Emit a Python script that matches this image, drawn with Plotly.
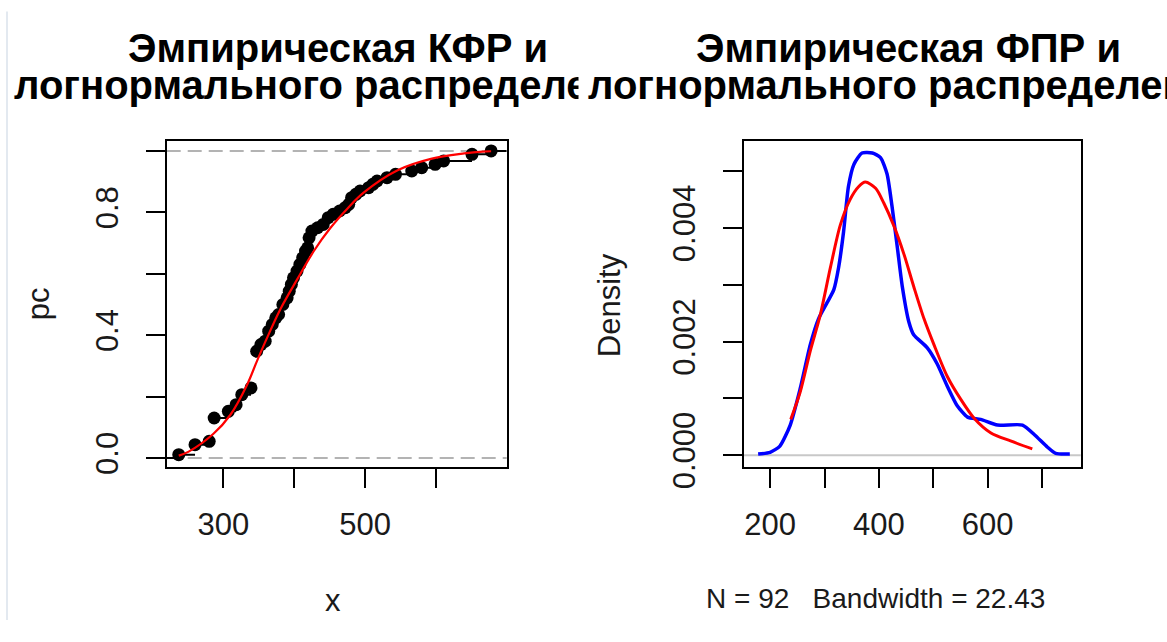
import plotly.graph_objects as go

# ---------------- data ----------------
N_TOTAL = 92
ecdf_x = [237, 260, 280, 287, 307, 318, 326, 339, 347, 353,
          359, 364, 369, 374, 378, 384, 390, 393, 396, 399,
          404, 408, 412, 416, 419, 421, 425, 433, 441, 448,
          455, 464, 472, 477, 481, 487, 493, 505, 511, 517,
          531, 543, 566, 580, 599, 611, 651, 678]
ecdf_n = [1, 4, 5, 12, 14, 16, 19, 21, 32, 34,
          35, 38, 40, 42, 43, 46, 48, 50, 52, 54,
          56, 58, 60, 62, 63, 66, 68, 69, 70, 72,
          73, 74, 75, 76, 78, 79, 80, 81, 82, 83,
          84, 85, 86, 87, 88, 89, 91, 92]

cdf_x = [237, 251, 286, 310, 333, 348, 362, 381, 404, 428, 451, 475, 498, 546, 593, 640, 666, 678]
cdf_y = [0.008, 0.021, 0.079, 0.141, 0.236, 0.319, 0.393, 0.487, 0.581, 0.675, 0.749, 0.812,
         0.864, 0.937, 0.974, 0.992, 0.998, 0.999]

dens_x = [178, 200, 218, 237, 255, 274, 289, 305, 317, 326, 335, 344, 354, 369, 388, 403,
          415, 424, 434, 443, 455, 464, 489, 507, 526, 544, 563, 587, 618, 664, 686, 710, 725, 751]
dens_y = [0.00002, 0.00005, 0.00016, 0.00053, 0.00116, 0.00195, 0.00240, 0.00269, 0.00291,
          0.00331, 0.00393, 0.00473, 0.00512, 0.00532, 0.00532, 0.00524, 0.00495, 0.00439,
          0.00365, 0.00297, 0.00235, 0.00212, 0.00189, 0.00161, 0.00121, 0.00087, 0.00067,
          0.00063, 0.00053, 0.00053, 0.00036, 0.00014, 0.00003, 0.00002]

lnorm_x = [238, 255, 274, 292, 311, 329, 347, 363, 375, 394, 409, 427, 446, 464, 483, 501,
           526, 550, 575, 606, 642, 682]
lnorm_y = [0.00063, 0.00110, 0.00184, 0.00246, 0.00331, 0.00405, 0.00450, 0.00473, 0.00481,
           0.00470, 0.00444, 0.00405, 0.00354, 0.00297, 0.00240, 0.00195, 0.00138, 0.00099,
           0.00065, 0.00039, 0.00025, 0.00011]

left_xticks = [300, 400, 500, 600]
left_xtext = ["300", "", "500", ""]
left_yticks = [0, 0.2, 0.4, 0.6, 0.8, 1.0]
left_ytext = ["0.0", "", "0.4", "", "0.8", ""]
right_xticks = [200, 300, 400, 500, 600, 700]
right_xtext = ["200", "", "400", "", "600", ""]
right_yticks = [0, 0.001, 0.002, 0.003, 0.004, 0.005]
right_ytext = ["0.000", "", "0.002", "", "0.004", ""]

LX_RANGE = [220, 700]
LY_RANGE = [-0.0283, 1.0324]
RX_RANGE = [152, 771]
RY_RANGE = [-0.000204, 0.005532]

W, H = 1167, 642
FONT = "Liberation Sans, Arial, sans-serif"

# ---------------- figure ----------------
fig = go.Figure()

# ECDF horizontal step segments (no verticals, as in R's plot.ecdf)
seg_x, seg_y = [LX_RANGE[0], ecdf_x[0], None], [0, 0, None]
for i, xv in enumerate(ecdf_x):
    nxt = ecdf_x[i + 1] if i + 1 < len(ecdf_x) else LX_RANGE[1]
    yv = ecdf_n[i] / N_TOTAL
    seg_x += [xv, nxt, None]
    seg_y += [yv, yv, None]

fig.add_trace(go.Scatter(x=seg_x, y=seg_y, mode="lines", line=dict(color="black", width=2),
                         xaxis="x", yaxis="y", showlegend=False, hoverinfo="skip"))
fig.add_trace(go.Scatter(x=ecdf_x, y=[n / N_TOTAL for n in ecdf_n], mode="markers",
                         marker=dict(color="black", size=13), xaxis="x", yaxis="y", showlegend=False))
fig.add_trace(go.Scatter(x=cdf_x, y=cdf_y, mode="lines", line=dict(color="red", width=2.2, shape="spline"),
                         xaxis="x", yaxis="y", showlegend=False))

fig.add_trace(go.Scatter(x=dens_x, y=dens_y, mode="lines",
                         line=dict(color="blue", width=3.5, shape="spline", smoothing=0.6),
                         xaxis="x2", yaxis="y2", showlegend=False))
fig.add_trace(go.Scatter(x=lnorm_x, y=lnorm_y, mode="lines",
                         line=dict(color="red", width=3, shape="spline", smoothing=0.8),
                         xaxis="x2", yaxis="y2", showlegend=False))

ydom = [(H - 483.3) / H, (H - 146) / H]
axis_common = dict(showline=True, mirror=True, linecolor="black", linewidth=2,
                   ticks="outside", ticklen=19, tickwidth=2, tickcolor="black",
                   showgrid=False, zeroline=False,
                   tickfont=dict(family=FONT, size=31, color="#1a1a1a"))

fig.update_layout(
    width=W, height=H, margin=dict(l=0, r=0, t=0, b=0),
    paper_bgcolor="white", plot_bgcolor="white", showlegend=False,
    xaxis=dict(domain=[166.7 / W, 506.7 / W], range=LX_RANGE, tickmode="array",
               tickvals=left_xticks, ticktext=left_xtext, ticklabelstandoff=10, anchor="y", **axis_common),
    yaxis=dict(domain=ydom, range=LY_RANGE, tickmode="array", tickvals=left_yticks,
               ticktext=left_ytext, tickangle=-90, ticklabelstandoff=15, anchor="x", **axis_common),
    xaxis2=dict(domain=[744 / W, 1080.7 / W], range=RX_RANGE, tickmode="array",
                tickvals=right_xticks, ticktext=right_xtext, ticklabelstandoff=10, anchor="y2", **axis_common),
    yaxis2=dict(domain=ydom, range=RY_RANGE, tickmode="array", tickvals=right_yticks,
                ticktext=right_ytext, tickangle=-90, ticklabelstandoff=16, anchor="x2", **axis_common),
)

# reference lines
for yv in (0, 1):
    fig.add_shape(type="line", xref="x domain", yref="y", x0=0, x1=1, y0=yv, y1=yv,
                  line=dict(color="#b3b3b3", width=2, dash="14px,7px"), layer="below")
fig.add_shape(type="line", xref="x2 domain", yref="y2", x0=0, x1=1, y0=0, y1=0,
              line=dict(color="#c8c8c8", width=2), layer="below")
# faint page border on the left
fig.add_shape(type="line", xref="paper", yref="paper", x0=7 / W, x1=7 / W, y0=0, y1=1 - 12 / H,
              line=dict(color="#e3e9f0", width=2))

title_font = dict(family=FONT, size=40, color="black")
tick_like_font = dict(family=FONT, size=31, color="#1a1a1a")
sub_font = dict(family=FONT, size=28, color="#1a1a1a")

def ann(text, xpx, ypx, font, angle=0, **kw):
    fig.add_annotation(text=text, x=xpx / W, y=1 - ypx / H, xref="paper", yref="paper",
                       showarrow=False, font=font, textangle=angle, xanchor="center",
                       yanchor="middle", **kw)

ann("<b>Эмпирическая КФР и</b>", 338, 50, title_font)
ann("<b>логнормального распределения</b>", 337, 88, title_font)
# right-hand second line has a white backing so the left title is cut at the panel edge
ann("<b>логнормального распределения</b>", 912, 88, title_font, bgcolor="white", borderpad=9)
ann("<b>Эмпирическая ФПР и</b>", 908, 50, title_font)

ann("x", 333, 622, tick_like_font)
ann("pc", 38, 315, tick_like_font, angle=-90)
ann("Density", 609, 316, tick_like_font, angle=-90)
ann("N = 92   Bandwidth = 22.43", 875, 620, sub_font)

fig.write_html("out.html", config={"displayModeBar": False},
               post_script="document.body.style.margin='0px';")
